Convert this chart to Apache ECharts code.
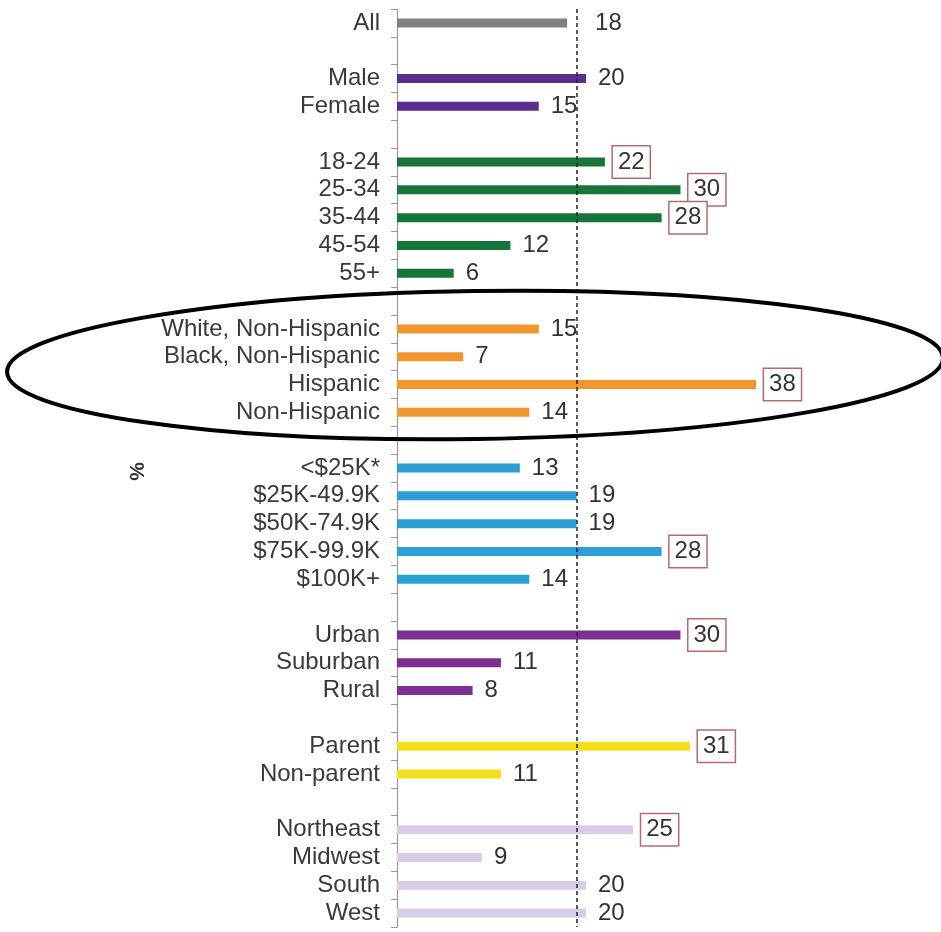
<!DOCTYPE html>
<html>
<head>
<meta charset="utf-8">
<script src="https://cdn.jsdelivr.net/npm/echarts@6/dist/echarts.min.js"></script>
<style>
  html, body { margin: 0; padding: 0; background: #fff; }
  #chart { width: 941px; height: 932px; }
</style>
</head>
<body>
<div id="chart"></div>
<script>
// Groups of respondents, top to bottom
const groupLabels = [
  ['All'],
  ['Male', 'Female'],
  ['18-24', '25-34', '35-44', '45-54', '55+'],
  ['White, Non-Hispanic', 'Black, Non-Hispanic', 'Hispanic', 'Non-Hispanic'],
  ['<$25K*', '$25K-49.9K', '$50K-74.9K', '$75K-99.9K', '$100K+'],
  ['Urban', 'Suburban', 'Rural'],
  ['Parent', 'Non-parent'],
  ['Northeast', 'Midwest', 'South', 'West']
];
const groupValues = [
  [18],
  [20, 15],
  [22, 30, 28, 12, 6],
  [15, 7, 38, 14],
  [13, 19, 19, 28, 14],
  [30, 11, 8],
  [31, 11],
  [25, 9, 20, 20]
];
const groupColors = ['#808080', '#5b2d8e', '#17743a', '#f0962e', '#2b9fd6', '#7d2f8f', '#f5df1c', '#d9cde6'];
// Results that differ notably from the overall figure get a framed label
const highlighted = ['18-24', '25-34', '35-44', 'Hispanic', '$75K-99.9K', 'Urban', 'Parent', 'Northeast'];
const overallLine = 19;
const axisName = '%';

const FONT = "'Liberation Sans', Arial, sans-serif";

// Build one category list with a blank slot between groups
const categories = [];
const barData = [];
groupLabels.forEach((labels, g) => {
  if (g > 0) { categories.push(''); barData.push('-'); }
  labels.forEach((name, i) => {
    categories.push(name);
    const item = {
      value: groupValues[g][i],
      itemStyle: { color: groupColors[g] }
    };
    if (highlighted.includes(name)) {
      item.label = {
        borderColor: '#b86a6a', borderWidth: 1.5, backgroundColor: '#fff',
        padding: [4, 5, 2, 5], distance: 8
      };
    }
    if (name === 'All') item.label = { distance: 28 };
    barData.push(item);
  });
});

const chart = echarts.init(document.getElementById('chart'));
chart.setOption({
  animation: false,
  grid: { left: 397, right: 166, top: 9, bottom: 5 },
  xAxis: { type: 'value', min: 0, max: 40, show: false },
  yAxis: {
    type: 'category', data: categories, inverse: true,
    axisLine: { show: true, lineStyle: { color: '#9a9a9a', width: 1.2 } },
    axisTick: { show: true, length: 6, lineStyle: { color: '#9a9a9a', width: 1 } },
    axisLabel: {
      interval: 0, margin: 17, color: '#3a3a3a',
      fontFamily: FONT, fontSize: 24
    }
  },
  series: [{
    type: 'bar', data: barData, barWidth: 9,
    label: {
      show: true, position: 'right', distance: 12,
      color: '#333', fontFamily: FONT,
      fontSize: 24, lineHeight: 25
    },
    markLine: {
      silent: true, symbol: 'none', label: { show: false },
      lineStyle: { color: '#222', type: [4, 3], width: 1.5 },
      data: [{ xAxis: overallLine }]
    }
  }],
  graphic: [
    {
      type: 'text', left: 128, top: 462, rotation: Math.PI / 2,
      style: { text: axisName, fill: '#333', font: "bold 21px 'Liberation Sans', Arial, sans-serif" }
    },
    {
      type: 'ellipse', shape: { cx: 0, cy: 0, rx: 468, ry: 74 },
      x: 475, y: 365, rotation: 0.015, z: 100,
      style: { fill: 'none', stroke: '#000', lineWidth: 4 }
    }
  ]
});
</script>
</body>
</html>
